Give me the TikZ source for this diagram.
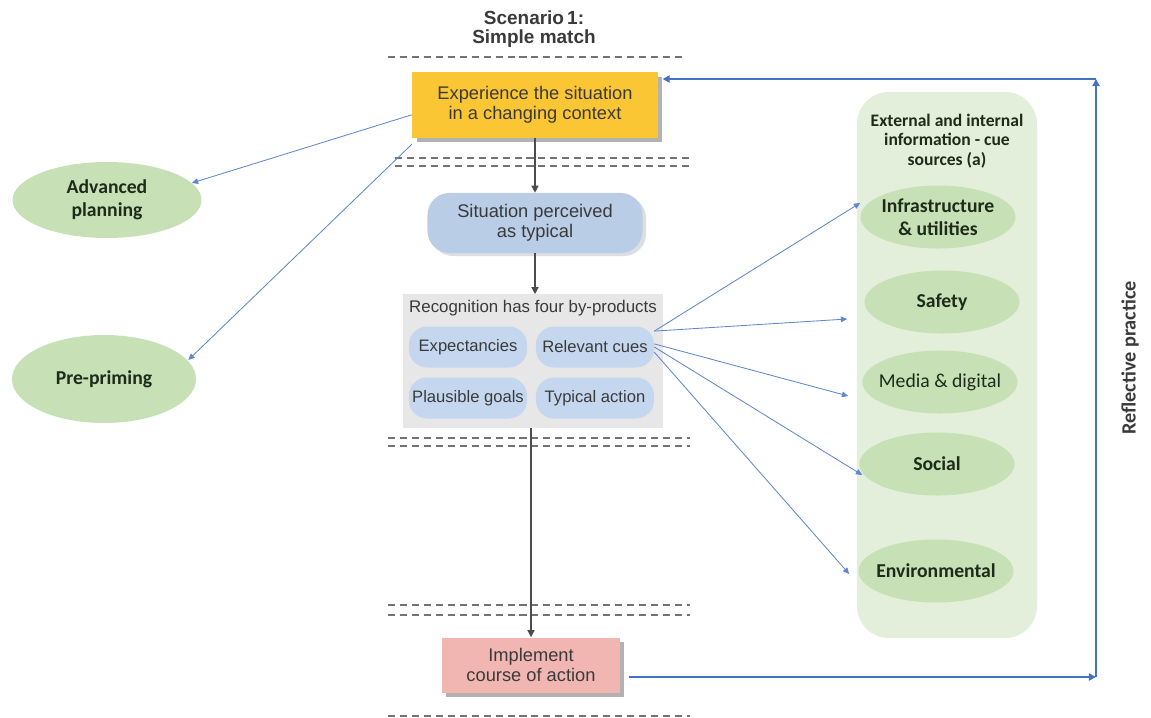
\documentclass[tikz,border=0pt]{standalone}
\usepackage{fontspec}
\setmainfont{Liberation Sans}
\newfontfamily\calfont{Carlito}
\usetikzlibrary{arrows.meta,shapes.geometric}

\definecolor{ochre}{HTML}{FBC634}
\definecolor{pinkbox}{HTML}{F2B6B2}
\definecolor{bluebox}{HTML}{BACDE6}
\definecolor{cuebox}{HTML}{C4D7EE}
\definecolor{greybox}{HTML}{E7E7E7}
\definecolor{panel}{HTML}{E3EFDA}
\definecolor{leaf}{HTML}{C7E0B5}
\definecolor{linkblue}{HTML}{4472C4}
\definecolor{inkgrey}{HTML}{3A3A3A}
\definecolor{inkgreen}{HTML}{1E2B1A}

\begin{document}
\begin{tikzpicture}[x=0.025cm,y=-0.025cm,
  flowtext/.style={align=center,text=inkgrey,font=\fontsize{13}{14.5}\selectfont,inner sep=0pt},
  shade box/.style={fill=black!30},
  sep/.style={draw=black!55,line width=1.3pt,dash pattern=on 5pt off 3.5pt},
  down/.style={draw=black!70,line width=0.9pt,-{Triangle[width=5pt,length=5pt]}},
  link/.style={draw=linkblue!85,line width=0.6pt,-{Triangle[width=4pt,length=4.5pt]}},
  loop/.style={draw=linkblue,line width=1.7pt,-{Triangle[width=5pt,length=5pt]}},
  cue/.style={flowtext,font=\fontsize{11.8}{14}\selectfont,fill=cuebox,rounded corners=0.45cm,
    minimum width=2.95cm,minimum height=1.025cm},
  leafnode/.style={ellipse,fill=leaf,align=center,text=inkgreen,inner xsep=-14pt,inner ysep=0pt,
    font=\calfont\bfseries\fontsize{14}{16}\selectfont,minimum width=3.875cm,minimum height=1.575cm}]
\useasboundingbox (0,0) rectangle (1151,717);

\node[align=center,text=inkgrey,font=\bfseries\fontsize{13.5}{13.5}\selectfont] (title) at (534,29) {Scenario\,1:\\Simple match};

\draw[sep] (388,57) -- (686,57);
\draw[sep] (395,158) -- (690,158);
\draw[sep] (395,166) -- (690,166);
\draw[sep] (388,438) -- (690,438);
\draw[sep] (388,446) -- (690,446);
\draw[sep] (388,605) -- (690,605);
\draw[sep] (388,615) -- (690,615);
\draw[sep] (388,716) -- (690,716);

\fill[shade box] (417,77) rectangle (662,142);
\node[flowtext,fill=ochre,minimum width=6.15cm,minimum height=1.65cm] (exp) at (535,105)
  {Experience the situation\\in a changing context};
\fill[bluebox!60!black!25,rounded corners=0.55cm] (431,196) rectangle (646,256);
\node[flowtext,fill=bluebox,rounded corners=0.55cm,minimum width=5.375cm,minimum height=1.5cm] (typ) at (535,223)
  {Situation perceived\\as typical};
\node[fill=greybox,minimum width=6.5cm,minimum height=3.325cm] (rec) at (533,361) {};
\node[flowtext,font=\fontsize{12}{14}\selectfont] (rectitle) at (533,308) {Recognition has four by-products};
\node[cue] (expect) at (468,347) {Expectancies};
\node[cue] (cues) at (595,347) {Relevant cues};
\node[cue] (goals) at (468,398) {Plausible goals};
\node[cue] (action) at (595,398) {Typical action};
\fill[shade box] (446,642) rectangle (624,697);
\node[flowtext,fill=pinkbox,minimum width=4.45cm,minimum height=1.375cm] (impl) at (531,665)
  {Implement\\course of action};

\draw[down] (exp.south -| typ.north) -- (typ.north);
\draw[down] (typ.south) -- (rec.north -| typ.south);
\draw[down] (rec.south -| impl.north) -- (impl.north);

\node[leafnode,minimum width=4.725cm,minimum height=1.9cm] (adv) at (107,200) {Advanced\\planning};
\node[leafnode,minimum width=4.6cm,minimum height=2.2cm] (pre) at (104,379) {Pre-priming};
\draw[link] ([yshift=-7]exp.west) -- ([shift={(-10,-17)}]adv.east);
\draw[link] ([yshift=-28]exp.west) -- ([shift={(-8,-19)}]pre.east);

\node[fill=panel,rounded corners=0.8cm,minimum width=4.5cm,minimum height=13.65cm] (src) at (947,365) {};
\node[align=center,text=inkgreen,font=\calfont\bfseries\fontsize{12.5}{14}\selectfont] (srctitle) at (947,141)
  {External and internal\\information - cue\\sources (a)};
\node[leafnode] (infra) at (938,217) {Infrastructure\\\& utilities};
\node[leafnode] (safety) at (942,302) {Safety};
\node[leafnode,font=\calfont\fontsize{14}{16}\selectfont] (media) at (940,382) {Media \& digital};
\node[leafnode] (social) at (937,464) {Social};
\node[leafnode] (env) at (936,571) {Environmental};

\draw[link] (cues.15) -- ([yshift=10]infra.west);
\draw[link] (cues.15) -- ([shift={(-17,17)}]safety.west);
\draw[link] (cues.3) -- ([shift={(-14,14)}]media.west);
\draw[link] (cues.0) -- ([shift={(3,11)}]social.west);
\draw[link] (cues.-5) -- ([shift={(-9,3)}]env.west);

\coordinate (loopbot) at (1096,677);
\coordinate (looptop) at (1096,79);
\draw[loop] ([xshift=6]impl.east |- loopbot) -- (loopbot);
\draw[loop] (loopbot) -- (looptop);
\draw[loop] (looptop) -- ([xshift=3]exp.east |- looptop);
\node[rotate=90,text=inkgrey,font=\calfont\bfseries\fontsize{14.4}{16}\selectfont] (refl) at (1130,358) {Reflective practice};
\end{tikzpicture}
\end{document}
